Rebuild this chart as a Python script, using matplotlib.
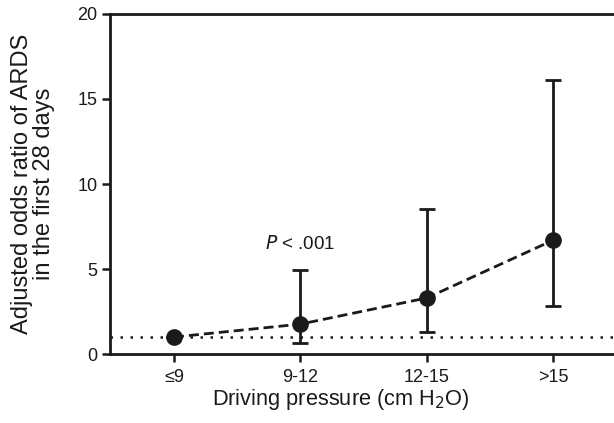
import matplotlib.pyplot as plt

plt.rcParams['font.family'] = ['Liberation Sans', 'DejaVu Sans']

# data
categories = ['≤9', '9-12', '12-15', '>15']
odds_ratio = [1.0, 1.76, 3.3, 6.7]
ci_low = [1.0, 0.65, 1.29, 2.82]
ci_high = [1.0, 4.94, 8.53, 16.1]
y_ticks = [0, 5, 10, 15, 20]

x = list(range(len(categories)))
err_low = [o - l for o, l in zip(odds_ratio, ci_low)]
err_high = [h - o for o, h in zip(odds_ratio, ci_high)]

fig = plt.figure(figsize=(6.14, 4.23), dpi=100)
ax = fig.add_axes([0.179, 0.163, 0.821, 0.804])

# reference line at OR = 1
ax.axhline(1, color='#1a1a1a', linestyle=(0, (1, 3)), linewidth=1.8, zorder=1)

ax.errorbar(x, odds_ratio, yerr=[err_low, err_high], fmt='none',
            ecolor='#1a1a1a', elinewidth=2, capsize=5.5, capthick=2, zorder=2)
ax.plot(x, odds_ratio, color='#1a1a1a', linestyle=(0, (3.6, 1.8)), linewidth=2,
        marker='o', markersize=11, zorder=3)

ax.text(1, 6.5, r'$\it{P}$ < .001', ha='center', va='center', fontsize=13.5,
        color='#1a1a1a')

ax.set_xlim(-0.507, 3.48)
ax.set_ylim(0, 20)
ax.set_xticks(x)
ax.set_xticklabels(categories)
ax.set_yticks(y_ticks)

for side in ['left', 'bottom', 'top']:
    ax.spines[side].set_linewidth(2)
    ax.spines[side].set_color('#1a1a1a')
ax.spines['right'].set_visible(False)
ax.tick_params(direction='out', length=6, width=1.8, labelsize=13,
               colors='#1a1a1a', pad=3)
ax.tick_params(axis='x', pad=5)

ax.set_xlabel('Driving pressure (cm H$_2$O)', fontsize=15.7, color='#1a1a1a')
ax.xaxis.set_label_coords((341 - 110) / 504, -0.097)
ax.set_ylabel('Adjusted odds ratio of ARDS\nin the first 28 days', fontsize=17,
              color='#1a1a1a', linespacing=1.0)
ax.yaxis.set_label_coords(-0.109, 0.5)

plt.savefig('out.png', dpi=100)
